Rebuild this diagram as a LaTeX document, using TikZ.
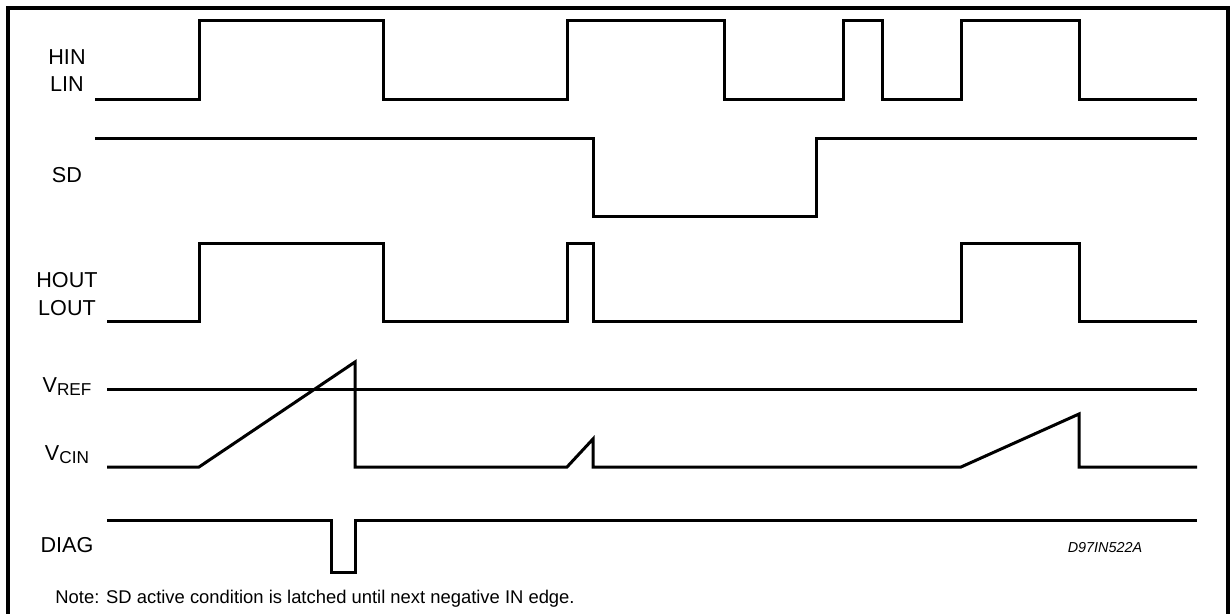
\documentclass[tikz,border=0pt]{standalone}
\usepackage{fontspec}
\setmainfont{Liberation Sans}
\tikzset{
    frame/.style={
        draw=black,
        line width=1.8pt
    },
    signal/.style={
        draw=black,
        line width=1.5pt
    },
    label/.style={
        anchor=base,
        inner sep=0pt,
        font=\fontsize{10.8}{13}\selectfont
    },
    note/.style={
        anchor=base west,
        inner sep=0pt,
        font=\fontsize{9.2}{11}\selectfont
    },
    code/.style={
        anchor=base,
        inner sep=0pt,
        font=\fontsize{7.2}{9}\selectfont\itshape
    }
}
\newcommand{\subtxt}[1]{\raisebox{-1.5pt}{\fontsize{8.6}{10}\selectfont #1}}

\begin{document}
\begin{tikzpicture}[x=0.5pt, y=-0.5pt]
    \useasboundingbox (0,0) rectangle (1230,614);
    \draw[frame] (8,614) -- (8,8) -- (1228,8) -- (1228,614);
    
    \node[label] (hin) at (67,65) {HIN};
    \node[label] (lin) at (67,92) {LIN};
    \node[label] (sd) at (67,183) {SD};
    \node[label] (hout) at (67,288) {HOUT};
    \node[label] (lout) at (67,315) {LOUT};
    \node[label] (vref) at (67,393) {V\subtxt{REF}};
    \node[label] (vcin) at (67,460) {V\subtxt{CIN}};
    \node[label] (diag) at (67,552) {DIAG};
    
    \node[code] (ref) at (1105,552) {D97IN522A};
    \node[note] (note) at (55,603) {Note: SD active condition is latched until next negative IN edge.};
    
    \begin{scope} % inputs
    	\draw[signal] 
    	(95,100) -| (199,21) -| (383,100) -| (567,21) -| (724,100) 
    	-| (843,21) -| (882,100) -| (961,21) -| (1079,100) -- (1197,100);
    	
    	\draw[signal] 
    	(95,139) -| (593,217) -| (816,139) -- (1197,139);
    \end{scope}
    \begin{scope} % outputs
    	\draw[signal] 
    	(107,322) -| (199,244) -| (383,322) -| (567,244) -| (593,322) 
    	-| (961,244) -| (1079,322) -- (1197,322);
    	
    	\draw[signal] 
    	(107,389) -- (1197,389);
    	
    	\draw[signal] 
    	(107,467) -- (199,467) -- (355,362) -- (355,467) 
    	-- (567,467) -- (593,439) -- (593,467) 
    	-- (961,467) -- (1079,414) -- (1079,467) -- (1197,467);
    	
    	\draw[signal] 
    	(107,520) -| (331,572) -| (355,520) -- (1197,520);
    \end{scope}
\end{tikzpicture}
\end{document}
